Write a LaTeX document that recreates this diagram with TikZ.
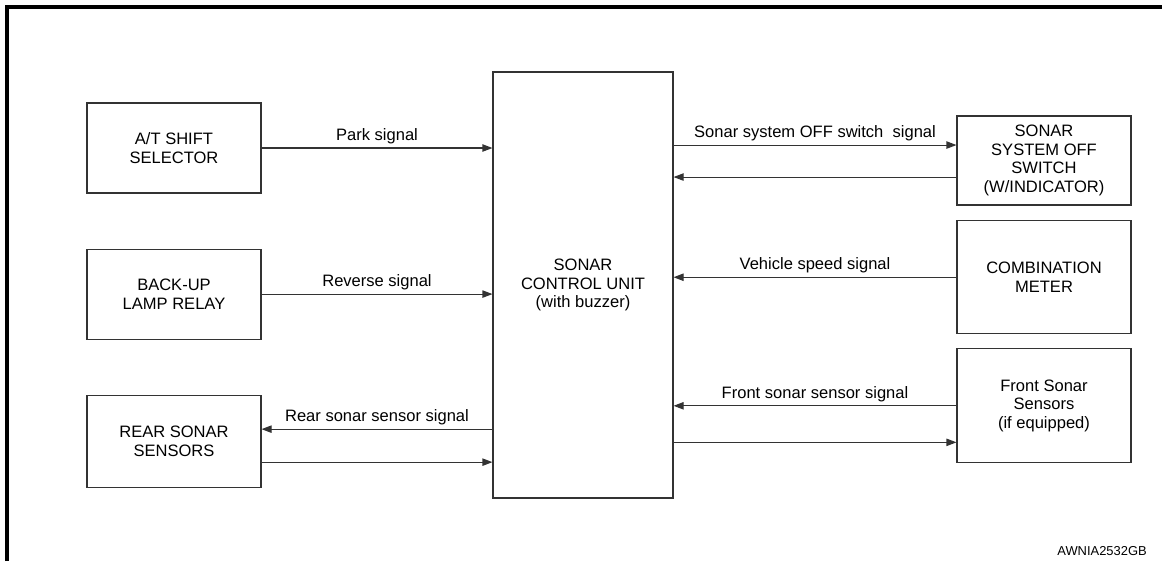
\documentclass[tikz,border=0pt]{standalone}
\usepackage{fontspec}
\setmainfont{Liberation Sans}
\usepackage{xcolor}
\definecolor{clLine}{HTML}{333333}
\usepackage{tikz}
\usetikzlibrary{arrows.meta,positioning}
\tikzset{
  blk/.style={rectangle, draw=clLine, line width=0.8pt, align=center,
              minimum width=130.5pt, minimum height=67.5pt, inner sep=2pt,
              font=\fontsize{12.4}{14}\selectfont},
  unit/.style={blk, minimum width=135pt, minimum height=319.5pt},
  flow/.style={-{Triangle[length=7.5pt, width=5.5pt]}, line width=0.8pt, draw=clLine},
  flowlabel/.style={above, inner sep=2.5pt, font=\fontsize{12.4}{14}\selectfont},
}

\begin{document}
\begin{tikzpicture}[x=0.75pt, y=-0.75pt]
  \useasboundingbox (0,0) rectangle (1162,561);
  \draw[line width=2.3pt] (7,561) -- (7,7) -- (1162,7);

  % control unit in the middle
  \node[unit] (scu) at (583,285) {SONAR\\CONTROL UNIT\\(with buzzer)};

  % inputs on the left
  \node[blk] (atshift) at (174,148) {A/T SHIFT\\SELECTOR};
  \node[blk, below=41.25pt of atshift] (backup) {BACK-UP\\LAMP RELAY};
  \node[blk, below=41.25pt of backup, minimum height=69pt] (rear) {REAR SONAR\\SENSORS};

  % right column
  \node[blk, minimum height=66.75pt] (offsw) at (1044,160.5) {SONAR\\SYSTEM OFF\\SWITCH\\(W/INDICATOR)};
  \node[blk, below=11pt of offsw, minimum height=84.75pt] (combmeter) {COMBINATION\\METER};
  \node[blk, below=10.5pt of combmeter, minimum height=85.5pt] (front) {Front Sonar\\Sensors\\(if equipped)};

  \coordinate (offswtop) at ([yshift=11.6pt]offsw.west);
  \coordinate (offswbot) at ([yshift=-12.4pt]offsw.west);
  \coordinate (rearin) at ([yshift=9pt]rear.east);
  \coordinate (rearout) at ([yshift=-15.75pt]rear.east);
  \coordinate (frontout) at ([yshift=-27.4pt]front.west);

  \draw[flow] (atshift) -- (atshift -| scu.west) node[flowlabel, midway] {Park signal};
  \draw[flow] (backup) -- (backup -| scu.west) node[flowlabel, midway] {Reverse signal};
  \draw[flow] (scu.west |- rearin) -- (rearin) node[flowlabel, midway] {Rear sonar sensor signal};
  \draw[flow] (rearout) -- (scu.west |- rearout);

  \draw[flow] (scu.east |- offswtop) -- (offswtop) node[flowlabel, midway] {Sonar system OFF switch\ \ signal};
  \draw[flow] (offswbot) -- (scu.east |- offswbot);
  \draw[flow] (combmeter) -- (combmeter -| scu.east) node[flowlabel, midway] {Vehicle speed signal};
  \draw[flow] (front) -- (front -| scu.east) node[flowlabel, midway] {Front sonar sensor signal};
  \draw[flow] (scu.east |- frontout) -- (frontout);

  \node[font=\fontsize{9.7}{11}\selectfont, anchor=east, inner sep=0pt] (tag) at (1147,551) {AWNIA2532GB};
\end{tikzpicture}
\end{document}
